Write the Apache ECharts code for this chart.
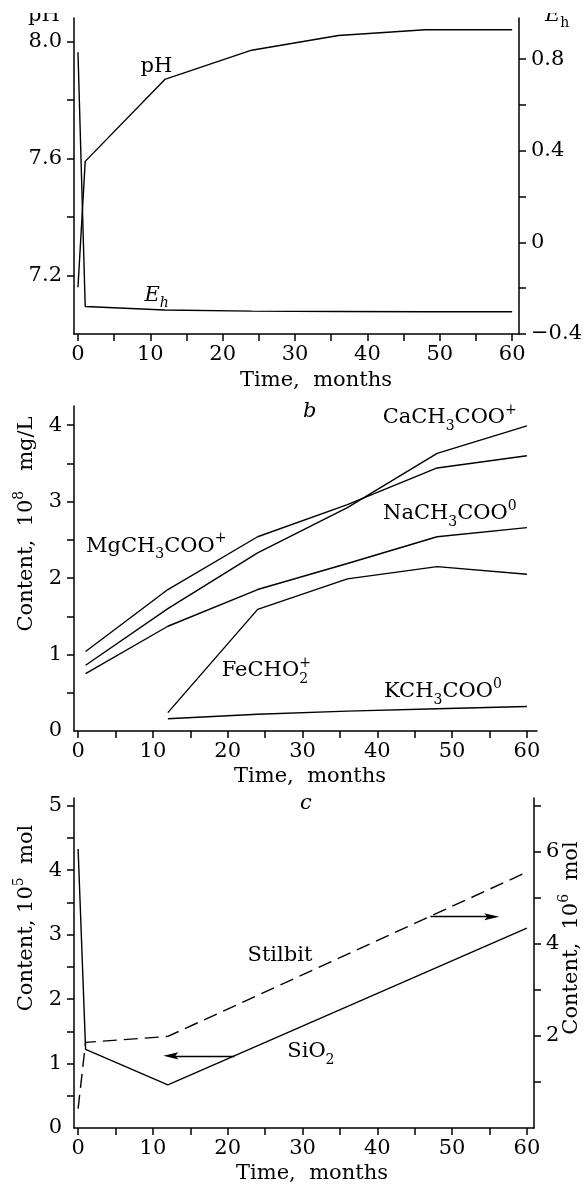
<!DOCTYPE html>
<html>
<head>
<meta charset="utf-8">
<script src="https://cdn.jsdelivr.net/npm/echarts@6/dist/echarts.min.js"></script>
<style>
  html, body { margin: 0; padding: 0; background: #fff; }
  #chart { width: 585px; height: 1185px; }
</style>
</head>
<body>
<div id="chart"></div>
<script>
// panel a: pH (left) and Eh (right)
var monthsA = [0, 1, 12, 24, 36, 48, 60];
var phValues = [7.16, 7.59, 7.87, 7.97, 8.02, 8.04, 8.04];
var ehValues = [0.83, -0.28, -0.295, -0.30, -0.302, -0.303, -0.303];

// panel b: acetate complexes, 10^8 mg/L
var monthsB = [1, 12, 24, 36, 48, 60];
var caValues = [0.86, 1.60, 2.33, 2.92, 3.63, 3.99];
var mgValues = [1.04, 1.85, 2.54, 2.96, 3.44, 3.60];
var naValues = [0.75, 1.37, 1.85, 2.19, 2.54, 2.66];
var monthsFe = [12, 24, 36, 48, 60];
var feValues = [0.24, 1.59, 1.99, 2.15, 2.05];
var kValues = [0.16, 0.22, 0.26, 0.29, 0.32];

// panel c: SiO2 (left, 10^5 mol) and Stilbit (right, 10^6 mol)
var monthsC = [0, 1, 12, 60];
var sio2Values = [4.33, 1.22, 0.67, 3.10];
var stilbitValues = [0.42, 1.86, 1.99, 5.56];
var sio2Arrow = [[20.9, 1.12], [12.4, 1.12]];
var stilbitArrow = [[47.1, 4.59], [55.3, 4.59]];

// ticks and tick labels
var monthTicks = [0, 5, 10, 15, 20, 25, 30, 35, 40, 45, 50, 55, 60];
var monthLabels = [0, 10, 20, 30, 40, 50, 60];
var phTicks = [7.2, 7.4, 7.6, 7.8, 8.0];
var phLabels = [7.2, 7.6, 8.0];
var ehTicks = [-0.4, -0.2, 0, 0.2, 0.4, 0.6, 0.8];
var ehLabels = [-0.4, 0, 0.4, 0.8];
var contentTicks = [0.5, 1, 1.5, 2, 2.5, 3, 3.5, 4];
var contentLabels = [0, 1, 2, 3, 4];
var sio2Ticks = [0.5, 1, 1.5, 2, 2.5, 3, 3.5, 4, 4.5, 5];
var sio2Labels = [0, 1, 2, 3, 4, 5];
var stilbitTicks = [1, 2, 3, 4, 5, 6, 7];
var stilbitLabels = [2, 4, 6];

var FONT = 'DejaVu Serif';
var INK = '#000';
// narrow filled arrow head pointing up; the two empty moves keep the box square
var ARROW_HEAD = 'path://M0,0 L3.6,15 L0,12 L-3.6,15 Z M-7.5,0 L-7.5,0 M7.5,15 L7.5,15';

function pairs(xs, ys) {
  return xs.map(function (x, i) { return [x, ys[i]]; });
}

function xAxisFor(grid, max) {
  return {
    type: 'value', gridIndex: grid, min: -0.55, max: max,
    axisLine: { onZero: false, lineStyle: { color: INK, width: 1.5 } },
    axisTick: { customValues: monthTicks, length: 7, lineStyle: { color: INK, width: 1.5 } },
    axisLabel: { customValues: monthLabels, color: INK, fontFamily: FONT, fontSize: 21, margin: 10 },
    splitLine: { show: false }
  };
}

function yAxisFor(grid, pos, min, max, ticks, labels, fmt) {
  return {
    type: 'value', gridIndex: grid, position: pos, min: min, max: max,
    axisLine: { show: true, onZero: false, lineStyle: { color: INK, width: 1.5 } },
    axisTick: { show: true, customValues: ticks, length: 7, lineStyle: { color: INK, width: 1.5 } },
    axisLabel: { customValues: labels, color: INK, fontFamily: FONT, fontSize: 21, margin: 12, formatter: fmt },
    splitLine: { show: false }
  };
}

function line(name, x, y, data, dashed) {
  return {
    name: name, type: 'line', xAxisIndex: x, yAxisIndex: y,
    data: data, symbol: 'none', silent: true, animation: false,
    lineStyle: { color: INK, width: 1.4, type: dashed ? [14, 7] : 'solid' },
    emphasis: { disabled: true }
  };
}

function arrow(coords) {
  return {
    silent: true, animation: false,
    symbol: ['none', ARROW_HEAD], symbolSize: 15,
    label: { show: false },
    lineStyle: { color: INK, width: 1.4, type: 'solid' },
    itemStyle: { color: INK },
    emphasis: { disabled: true },
    data: [[{ coord: coords[0] }, { coord: coords[1] }]]
  };
}

var RICH = {
  sub: { fontSize: 14, fontFamily: FONT, verticalAlign: 'bottom', fill: INK },
  sub0: { fontSize: 14, fontFamily: FONT, verticalAlign: 'bottom', width: 0, fill: INK },
  sup: { fontSize: 14, fontFamily: FONT, verticalAlign: 'top', fill: INK },
  it: { fontSize: 21, fontFamily: FONT, fontStyle: 'italic', fill: INK },
  itsub: { fontSize: 14, fontFamily: FONT, fontStyle: 'italic', verticalAlign: 'bottom', fill: INK }
};

function text(x, y, str, align, rot) {
  return {
    type: 'text', x: x, y: y, rotation: rot || 0, z: 10, silent: true,
    style: {
      text: str, fill: INK, fontSize: 21, fontFamily: FONT,
      align: align || 'left', verticalAlign: 'middle', lineHeight: 30, rich: RICH
    }
  };
}

function fixed1(v) {
  if (v === 0) return '0';
  return (v < 0 ? '\u2212' : '') + Math.abs(v).toFixed(1);
}

var chart = echarts.init(document.getElementById('chart'), null, { renderer: 'canvas' });

var option = {
  animation: false,
  backgroundColor: '#fff',
  grid: [
    { left: 74, top: 18, width: 460, height: 316 },
    { left: 74, top: 406, width: 463, height: 325 },
    { left: 74, top: 798, width: 460, height: 330 }
  ],
  xAxis: [
    xAxisFor(0, 60.95),
    xAxisFor(1, 61.35),
    xAxisFor(2, 60.95)
  ],
  yAxis: [
    yAxisFor(0, 'left', 7.0, 8.08, phTicks, phLabels, function (v) { return v.toFixed(1); }),
    yAxisFor(0, 'right', -0.4, 0.98, ehTicks, ehLabels, fixed1),
    yAxisFor(1, 'left', 0, 4.25, contentTicks, contentLabels),
    yAxisFor(2, 'left', 0, 5.12, sio2Ticks, sio2Labels),
    yAxisFor(2, 'right', 0, 7.17, stilbitTicks, stilbitLabels)
  ],
  series: [
    line('pH', 0, 0, pairs(monthsA, phValues)),
    line('Eh', 0, 1, pairs(monthsA, ehValues)),
    line('CaCH3COO+', 1, 2, pairs(monthsB, caValues)),
    line('MgCH3COO+', 1, 2, pairs(monthsB, mgValues)),
    line('NaCH3COO0', 1, 2, pairs(monthsB, naValues)),
    line('FeCHO2+', 1, 2, pairs(monthsFe, feValues)),
    line('KCH3COO0', 1, 2, pairs(monthsFe, kValues)),
    Object.assign(line('SiO2', 2, 3, pairs(monthsC, sio2Values)), { markLine: arrow(sio2Arrow) }),
    Object.assign(line('Stilbit', 2, 4, pairs(monthsC, stilbitValues), true), { markLine: arrow(stilbitArrow) })
  ],
  graphic: [
    // panel a
    text(28, 15.4, 'pH'),
    text(545, 15.4, '{it|E}{sub|h}'),
    text(140.6, 66.4, 'pH'),
    text(144.4, 295.4, '{it|E}{itsub|h}'),
    text(316, 381, 'Time,  months', 'center'),
    // panel b
    text(303, 411.7, '{it|b}'),
    text(382.7, 418, 'CaCH{sub|3}COO{sup|+}'),
    text(383, 514, 'NaCH{sub|3}COO{sup|0}'),
    text(86, 546.4, 'MgCH{sub|3}COO{sup|+}'),
    text(221.7, 671, 'FeCHO{sub0|2}{sup|+}'),
    text(384, 692, 'KCH{sub|3}COO{sup|0}'),
    text(27, 524, 'Content,  10{sup|8}   mg/L', 'center', Math.PI / 2),
    text(310, 777, 'Time,  months', 'center'),
    // panel c
    text(300, 803.7, '{it|c}'),
    text(247.5, 955.4, 'Stilbit'),
    text(287.3, 1052, 'SiO{sub|2}'),
    text(27, 918, 'Content, 10{sup|5}  mol', 'center', Math.PI / 2),
    text(572, 938, 'Content,  10{sup|6}  mol', 'center', Math.PI / 2),
    text(312, 1173.7, 'Time,  months', 'center'),
    // the source figure is trimmed along its top edge
    { type: 'rect', z: 100, silent: true, shape: { x: 0, y: 0, width: 585, height: 13 }, style: { fill: '#fff' } }
  ]
};

chart.setOption(option);
window.addEventListener('resize', chart.resize);
</script>
</body>
</html>
